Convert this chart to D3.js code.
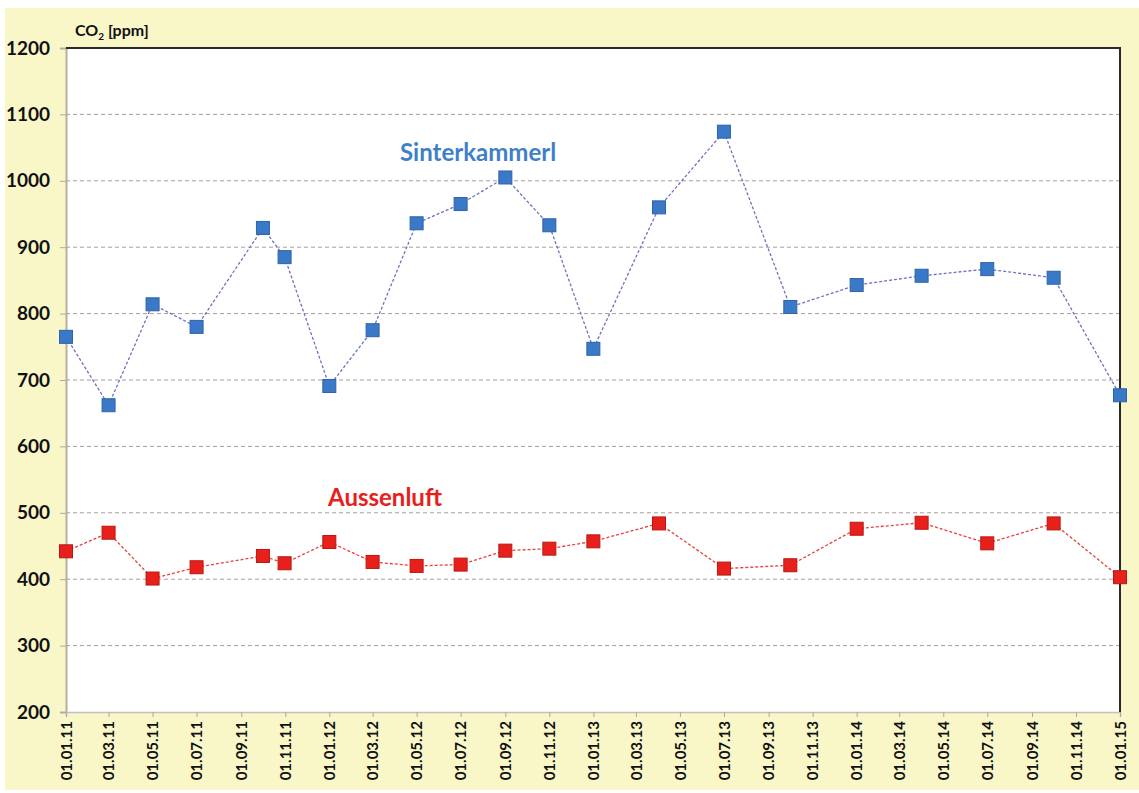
<!DOCTYPE html>
<html>
<head>
<meta charset="utf-8">
<script src="https://cdn.jsdelivr.net/npm/d3@7"></script>
<style>
  html, body { margin: 0; padding: 0; background: #fff; }
  text { font-family: Lato, "Open Sans", sans-serif; font-weight: bold; }
</style>
</head>
<body>
<div id="chart"></div>
<script>
// measurement dates (dd.mm.yy)
const dates = [
  "01.01.11", "01.03.11", "01.05.11", "01.07.11", "01.10.11", "31.10.11",
  "01.01.12", "01.03.12", "01.05.12", "01.07.12", "01.09.12", "01.11.12",
  "01.01.13", "02.04.13", "01.07.13", "01.10.13", "01.01.14", "01.04.14",
  "01.07.14", "01.10.14", "01.01.15"
];
// CO2 in the cave chamber
const sinterkammerl = [
  765, 662, 814, 780, 929, 885, 691, 775, 936, 965, 1005, 933,
  747, 960, 1074, 810, 843, 857, 867, 854, 677
];
// CO2 outside air
const aussenluft = [
  442, 470, 401, 418, 435, 424, 456, 426, 420, 422, 443, 446,
  457, 484, 416, 421, 476, 485, 454, 484, 403
];
// x axis tick labels (every two months)
const tickLabels = [
  "01.01.11", "01.03.11", "01.05.11", "01.07.11", "01.09.11", "01.11.11",
  "01.01.12", "01.03.12", "01.05.12", "01.07.12", "01.09.12", "01.11.12",
  "01.01.13", "01.03.13", "01.05.13", "01.07.13", "01.09.13", "01.11.13",
  "01.01.14", "01.03.14", "01.05.14", "01.07.14", "01.09.14", "01.11.14",
  "01.01.15"
];
const yTicks = [200, 300, 400, 500, 600, 700, 800, 900, 1000, 1100, 1200];

const W = 1139, H = 793;
const margin = { top: 48, right: 19, bottom: 81, left: 66 };
const parse = d3.timeParse("%d.%m.%y");

const svg = d3.select("#chart").append("svg")
  .attr("width", W).attr("height", H);

// yellow page background
svg.append("rect")
  .attr("x", 5).attr("y", 8)
  .attr("width", W - 5).attr("height", 782)
  .attr("fill", "#f9f6c8");

const x = d3.scaleTime()
  .domain([parse(tickLabels[0]), parse(tickLabels[tickLabels.length - 1])])
  .range([margin.left, W - margin.right]);
const y = d3.scaleLinear()
  .domain([200, 1200])
  .range([H - margin.bottom, margin.top]);

// plot area
svg.append("rect")
  .attr("x", margin.left).attr("y", margin.top)
  .attr("width", x.range()[1] - margin.left)
  .attr("height", y.range()[0] - margin.top)
  .attr("fill", "#fff");

// gridlines
svg.append("g")
  .selectAll("line")
  .data(yTicks.filter(d => d > 200 && d < 1200))
  .join("line")
  .attr("x1", margin.left).attr("x2", x.range()[1])
  .attr("y1", d => y(d)).attr("y2", d => y(d))
  .attr("stroke", "#ab9a96")
  .attr("stroke-width", 1)
  .attr("stroke-dasharray", "4,3");

// y axis
const yAxis = svg.append("g")
  .attr("transform", `translate(${margin.left},0)`)
  .call(d3.axisLeft(y).tickValues(yTicks).tickSize(6).tickPadding(10).tickFormat(d3.format("d")));
yAxis.select(".domain").attr("stroke", "#b9ada0").attr("stroke-width", 2);
yAxis.selectAll(".tick line").attr("stroke", "#b0a8a0");
yAxis.selectAll("text")
  .attr("font-size", 19).attr("fill", "#111")
  .attr("font-family", "Lato, sans-serif");

// x axis
const xAxis = svg.append("g")
  .attr("transform", `translate(0,${y.range()[0]})`)
  .call(d3.axisBottom(x)
    .tickValues(tickLabels.map(parse))
    .tickSize(5)
    .tickFormat(d3.timeFormat("%d.%m.%y")));
xAxis.select(".domain").attr("stroke", "#c4c0c0").attr("stroke-width", 1.5);
xAxis.selectAll(".tick line").attr("stroke", "#b0a8a0");
xAxis.selectAll("text")
  .attr("font-size", 15).attr("fill", "#111")
  .attr("font-family", "Lato, sans-serif")
  .attr("transform", "rotate(-90)")
  .attr("text-anchor", "end")
  .attr("dy", "0.35em")
  .attr("x", -9)
  .attr("y", 0);

// top and right frame
svg.append("path")
  .attr("d", `M${margin.left},${margin.top}H${x.range()[1]}V${y.range()[0]}`)
  .attr("fill", "none")
  .attr("stroke", "#2a2a2a")
  .attr("stroke-width", 2);

// series
const series = [
  { name: "Sinterkammerl", values: sinterkammerl, line: "#7070c0", fill: "#3a78c8", edge: "#2f62a8", dash: "3,2" },
  { name: "Aussenluft", values: aussenluft, line: "#e8403a", fill: "#e8201c", edge: "#b81812", dash: "3,2" }
];

const line = d3.line()
  .x(d => x(d.date))
  .y(d => y(d.v));

const ms = 13;
series.forEach(s => {
  const pts = dates.map((d, i) => ({ date: parse(d), v: s.values[i] }));
  svg.append("path")
    .datum(pts)
    .attr("d", line)
    .attr("fill", "none")
    .attr("stroke", s.line)
    .attr("stroke-width", 1.3)
    .attr("stroke-dasharray", s.dash);
  svg.append("g")
    .selectAll("rect")
    .data(pts)
    .join("rect")
    .attr("x", d => x(d.date) - ms / 2)
    .attr("y", d => y(d.v) - ms / 2)
    .attr("width", ms).attr("height", ms)
    .attr("fill", s.fill)
    .attr("stroke", s.edge)
    .attr("stroke-width", 1);
});

// series labels
svg.append("text")
  .attr("x", 400).attr("y", 161)
  .attr("font-size", 24).attr("fill", "#3f7fc8")
  .text("Sinterkammerl");
svg.append("text")
  .attr("x", 328).attr("y", 506)
  .attr("font-size", 24).attr("fill", "#e8201c")
  .text("Aussenluft");

// unit label
const unit = svg.append("text")
  .attr("x", 75).attr("y", 36)
  .attr("font-size", 16).attr("fill", "#111");
unit.append("tspan").text("CO");
unit.append("tspan").attr("font-size", 10).attr("dy", 4).text("2");
unit.append("tspan").attr("dy", -4).text(" [ppm]");
</script>
</body>
</html>
